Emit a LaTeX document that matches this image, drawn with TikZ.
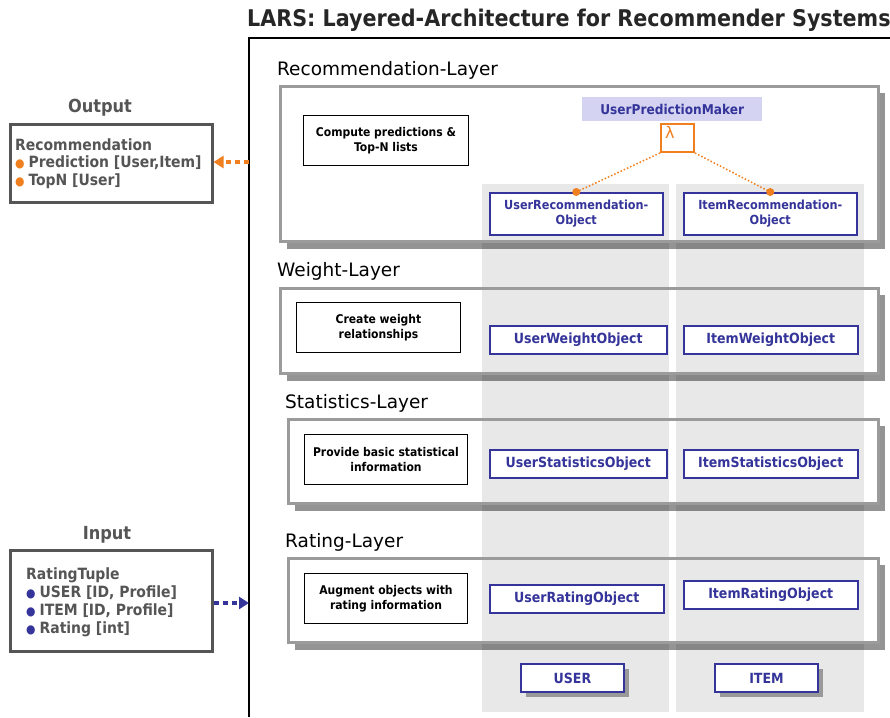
\documentclass[tikz,border=0pt]{standalone}
\usepackage{fontspec}
\setmainfont{DejaVu Sans}
\newfontfamily\cnd{DejaVu Sans Condensed}
\usetikzlibrary{arrows.meta}
\definecolor{objblue}{HTML}{34349A}
\definecolor{orng}{HTML}{F07F1F}
\definecolor{colgray}{HTML}{E8E8E8}
\definecolor{laygray}{HTML}{9B9B9B}
\definecolor{txtgray}{HTML}{555555}
\definecolor{lav}{HTML}{D4D4F2}
\tikzset{
 objbox/.style={draw=objblue, line width=1.5pt, fill=white, text=objblue, font=\cnd\bfseries\fontsize{14}{16}\selectfont, align=center, inner sep=0pt, anchor=north west},
 taskbox/.style={draw=black, line width=1pt, fill=white, font=\cnd\bfseries\fontsize{12}{15}\selectfont, align=center, inner sep=0pt, anchor=north west},
 layerbox/.style={draw=laygray, line width=3pt, anchor=north west, inner sep=0pt},
 laylabel/.style={anchor=west, font=\fontsize{18.5}{20}\selectfont, inner sep=0pt},
 iobox/.style={draw=txtgray, line width=2.5pt, fill=white, anchor=north west, inner sep=0pt},
 iotext/.style={anchor=west, inner sep=0pt, text=txtgray, font=\cnd\bfseries\fontsize{15.5}{17}\selectfont},
 iolabel/.style={inner sep=0pt, text=txtgray, font=\cnd\bfseries\fontsize{18}{20}\selectfont},
 shadowfill/.style={fill=black, opacity=0.42},
 dotarrow/.style={line width=3.5pt, dash pattern=on 5pt off 4pt},
}
\begin{document}
\begin{tikzpicture}[x=1pt,y=-1pt]
\useasboundingbox (0,0) rectangle (890,717);
% title and frame
\node[anchor=west, inner sep=0pt, text=black!85, font=\cnd\bfseries\fontsize{23}{26}\selectfont] (title) at (247,20) {LARS: Layered-Architecture for Recommender Systems};
\draw[line width=1.5pt] (249,717) -- (249,38) -- (890,38);
% columns
\fill[colgray] (482,184) rectangle (669,712);
\fill[colgray] (676,184) rectangle (864,712);
% layer shadows
\fill[shadowfill] (287,241.5) rectangle (885,249);
\fill[shadowfill] (878.5,93) rectangle (885,241.5);
\fill[shadowfill] (287,373.5) rectangle (885,381);
\fill[shadowfill] (878.5,295) rectangle (885,373.5);
\fill[shadowfill] (295,503.5) rectangle (885,511);
\fill[shadowfill] (878.5,426) rectangle (885,503.5);
\fill[shadowfill] (295,642.5) rectangle (885,650);
\fill[shadowfill] (878.5,565) rectangle (885,642.5);
% layers
\node[layerbox, minimum width=598pt, minimum height=155pt] (reclayer) at (279,85) {};
\node[layerbox, minimum width=598pt, minimum height=85pt] (wlayer) at (279,287) {};
\node[layerbox, minimum width=590pt, minimum height=84pt] (slayer) at (287,418) {};
\node[layerbox, minimum width=590pt, minimum height=84pt] (rlayer) at (287,557) {};
\node[laylabel] (reclab) at (277,70) {Recommendation-Layer};
\node[laylabel] (wlab) at (277,271) {Weight-Layer};
\node[laylabel] (slab) at (285,403) {Statistics-Layer};
\node[laylabel] (rlab) at (285,542) {Rating-Layer};
% task boxes
\node[taskbox, minimum width=165pt, minimum height=50pt] (t1) at (303,115) {Compute predictions \&\\Top-N lists};
\node[taskbox, minimum width=164pt, minimum height=50pt] (t2) at (296,302) {Create weight\\relationships};
\node[taskbox, minimum width=163pt, minimum height=50pt] (t3) at (304,434) {Provide basic statistical\\information};
\node[taskbox, minimum width=163pt, minimum height=50pt] (t4) at (304,573) {Augment objects with\\rating information};
% recommendation layer objects
\node[anchor=north west, fill=lav, minimum width=180pt, minimum height=24pt, inner sep=0pt, text=objblue, font=\cnd\bfseries\fontsize{13.5}{16}\selectfont] (upm) at (582,97) {UserPredictionMaker};
\node[anchor=north west, draw=orng, line width=2pt, fill=white, minimum width=33pt, minimum height=28pt, inner sep=0pt] (lam) at (660,123) {};
\node[anchor=north west, inner sep=0pt, text=orng, font=\fontsize{16}{18}\selectfont] (lamsym) at (665,126) {λ};
\node[objbox, minimum width=173pt, minimum height=42pt, font=\cnd\bfseries\fontsize{12.5}{15}\selectfont] (urec) at (489,192) {UserRecommendation-\\Object};
\node[objbox, minimum width=173pt, minimum height=42pt, font=\cnd\bfseries\fontsize{12.5}{15}\selectfont] (irec) at (683,192) {ItemRecommendation-\\Object};
\draw[orng, line width=1.5pt, dotted] (lam.south west) -- (urec.north);
\draw[orng, line width=1.5pt, dotted] (lam.south east) -- (irec.north);
\fill[orng] (urec.north) circle (4);
\fill[orng] (irec.north) circle (4);
% other objects
\node[objbox, minimum width=177pt, minimum height=28pt] (uw) at (489,325) {UserWeightObject};
\node[objbox, minimum width=174pt, minimum height=28pt] (iw) at (683,325) {ItemWeightObject};
\node[objbox, minimum width=177pt, minimum height=28pt] (us) at (489,449) {UserStatisticsObject};
\node[objbox, minimum width=174pt, minimum height=28pt] (is) at (683,449) {ItemStatisticsObject};
\node[objbox, minimum width=174pt, minimum height=28pt] (ur) at (489,584) {UserRatingObject};
\node[objbox, minimum width=174pt, minimum height=28pt] (ir) at (683,580) {ItemRatingObject};
% USER / ITEM
\fill[black!40] (526,669) rectangle (629,697);
\fill[black!40] (720,669) rectangle (823,697);
\node[objbox, line width=2pt, minimum width=103pt, minimum height=28pt] (user) at (520,663) {USER};
\node[objbox, line width=2pt, minimum width=103pt, minimum height=28pt] (item) at (714,663) {ITEM};
% output
\node[iolabel] (outlab) at (100,108) {Output};
\node[iobox, minimum width=202pt, minimum height=78pt] (outbox) at (9,123) {};
\node[iotext] (o1) at (15,145) {Recommendation};
\node[iotext] (o2) at (15,163) {\textcolor{orng}{\fontsize{12}{14}\selectfont ●}\hspace{4pt}Prediction [User,Item]};
\node[iotext] (o3) at (15,181) {\textcolor{orng}{\fontsize{12}{14}\selectfont ●}\hspace{4pt}TopN [User]};
\coordinate (outsrc) at (249,162);
\draw[orng, dotarrow, -{Triangle[length=10pt,width=12pt]}] (outsrc) -- (outbox.east |- outsrc);
% input
\node[iolabel] (inlab) at (107,535) {Input};
\node[iobox, minimum width=202pt, minimum height=101pt] (inbox) at (9,549) {};
\node[iotext] (i1) at (26,575) {RatingTuple};
\node[iotext] (i2) at (26,593) {\textcolor{objblue}{\fontsize{12}{14}\selectfont ●}\hspace{4pt}USER [ID, Profile]};
\node[iotext] (i3) at (26,611) {\textcolor{objblue}{\fontsize{12}{14}\selectfont ●}\hspace{4pt}ITEM [ID, Profile]};
\node[iotext] (i4) at (26,629) {\textcolor{objblue}{\fontsize{12}{14}\selectfont ●}\hspace{4pt}Rating [int]};
\coordinate (indst) at (249,603);
\draw[objblue, dotarrow, -{Triangle[length=10pt,width=12pt]}] (inbox.east |- indst) -- (indst);
\end{tikzpicture}
\end{document}
